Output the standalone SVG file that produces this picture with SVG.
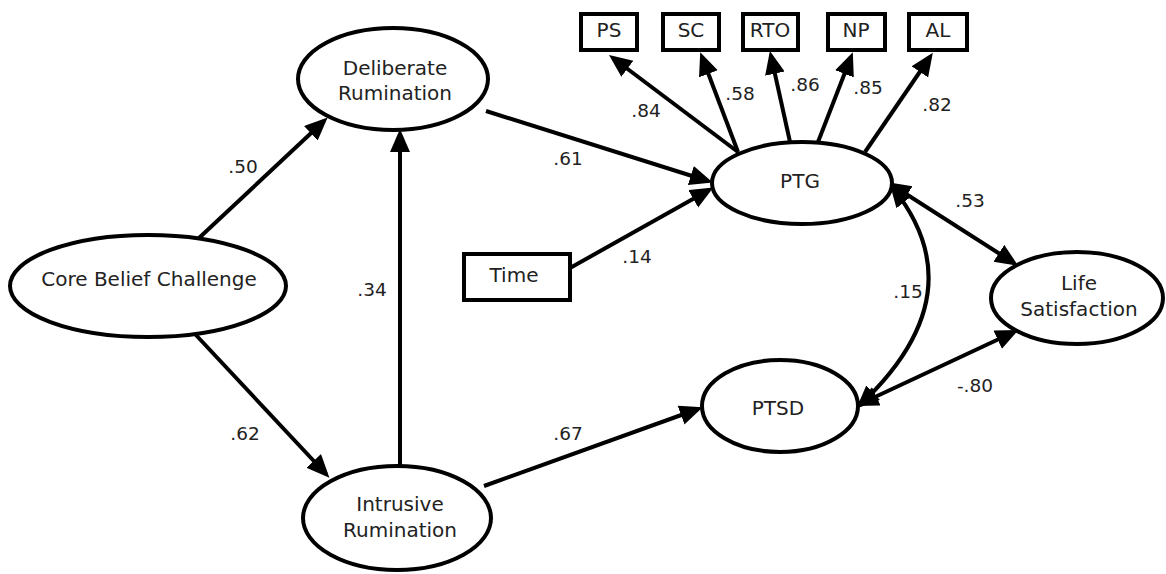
<svg xmlns="http://www.w3.org/2000/svg" width="1166" height="574" viewBox="0 0 1166 574">
<style>
.n{fill:#fff;stroke:#000;stroke-width:4}
.t{font-family:"DejaVu Sans",sans-serif;font-size:20px;fill:#222;text-anchor:middle}
.c{fill:none;stroke:#000;stroke-width:4}
.l{font-family:"DejaVu Sans",sans-serif;font-size:18.5px;fill:#222;text-anchor:middle}
</style>
<defs>
<marker id="a" markerUnits="userSpaceOnUse" markerWidth="24" markerHeight="22" refX="18" refY="10" orient="auto-start-reverse" viewBox="0 0 24 22">
<path d="M0,0 L23,10 L0,20 z" fill="#000"/>
</marker>
</defs>
<rect width="1166" height="574" fill="#fff"/>
<g id="connectors">
<line class="c" x1="199" y1="238" x2="324" y2="121" marker-end="url(#a)"/>
<line class="c" x1="195" y1="334" x2="326" y2="474" marker-end="url(#a)"/>
<line class="c" x1="400" y1="465" x2="400" y2="134" marker-end="url(#a)"/>
<line class="c" x1="486" y1="111" x2="708" y2="181" marker-end="url(#a)"/>
<line class="c" x1="570" y1="268" x2="709" y2="190" marker-end="url(#a)"/>
<line class="c" x1="484" y1="486" x2="698" y2="409" marker-end="url(#a)"/>
<line class="c" x1="738" y1="152" x2="613" y2="58" marker-end="url(#a)"/>
<line class="c" x1="738" y1="152" x2="702" y2="57" marker-end="url(#a)"/>
<line class="c" x1="790" y1="142" x2="771" y2="56" marker-end="url(#a)"/>
<line class="c" x1="818" y1="142" x2="851" y2="57" marker-end="url(#a)"/>
<line class="c" x1="865" y1="152" x2="930" y2="57" marker-end="url(#a)"/>
<line class="c" x1="892" y1="185" x2="1014" y2="263" marker-start="url(#a)" marker-end="url(#a)"/>
<line class="c" x1="860" y1="404" x2="1014" y2="332" marker-start="url(#a)" marker-end="url(#a)"/>
<path class="c" d="M 893 188 Q 978 294 860 405" marker-start="url(#a)" marker-end="url(#a)"/>
</g>
<g id="labels">
<text class="l" x="243" y="173">.50</text>
<text class="l" x="245" y="440">.62</text>
<text class="l" x="372" y="296">.34</text>
<text class="l" x="568" y="165">.61</text>
<text class="l" x="637" y="263">.14</text>
<text class="l" x="568" y="440">.67</text>
<text class="l" x="646" y="117">.84</text>
<text class="l" x="740" y="100">.58</text>
<text class="l" x="805" y="91">.86</text>
<text class="l" x="868" y="94">.85</text>
<text class="l" x="937" y="111">.82</text>
<text class="l" x="970" y="207">.53</text>
<text class="l" x="908" y="298">.15</text>
<text class="l" x="975" y="392">-.80</text>
</g>
<g id="cbc"><ellipse class="n" cx="148" cy="286" rx="138" ry="51"/><text class="t" x="149" y="286">Core Belief Challenge</text></g>
<g id="dr"><ellipse class="n" cx="393" cy="79" rx="95" ry="51"/><text class="t" x="395" y="75">Deliberate</text><text class="t" x="395" y="100">Rumination</text></g>
<g id="ir"><ellipse class="n" cx="397" cy="518" rx="94" ry="52"/><text class="t" x="400" y="511">Intrusive</text><text class="t" x="400" y="537">Rumination</text></g>
<g id="ptg"><ellipse class="n" cx="802" cy="183" rx="90" ry="41"/><text class="t" x="800" y="188">PTG</text></g>
<g id="ptsd"><ellipse class="n" cx="780" cy="406" rx="78" ry="46"/><text class="t" x="778" y="415">PTSD</text></g>
<g id="ls"><ellipse class="n" cx="1077" cy="298" rx="86" ry="46"/><text class="t" x="1079" y="290">Life</text><text class="t" x="1079" y="316">Satisfaction</text></g>
<g id="time"><rect class="n" x="464" y="254" width="106" height="46"/><text class="t" x="514" y="282">Time</text></g>
<g id="ps"><rect class="n" x="581" y="14" width="56" height="36"/><text class="t" x="609" y="37">PS</text></g>
<g id="sc"><rect class="n" x="663" y="14" width="56" height="36"/><text class="t" x="691" y="37">SC</text></g>
<g id="rto"><rect class="n" x="743" y="14" width="55" height="36"/><text class="t" x="770" y="37">RTO</text></g>
<g id="np"><rect class="n" x="828" y="14" width="57" height="36"/><text class="t" x="856" y="37">NP</text></g>
<g id="al"><rect class="n" x="909" y="14" width="58" height="36"/><text class="t" x="938" y="37">AL</text></g>
</svg>
